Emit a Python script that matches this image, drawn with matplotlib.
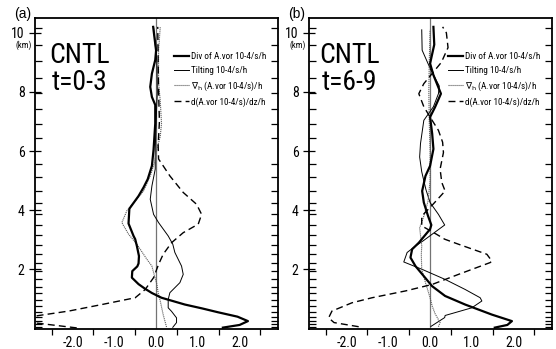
import matplotlib
matplotlib.use('Agg')
import matplotlib.pyplot as plt
from matplotlib import font_manager
from matplotlib.ticker import FixedLocator, FormatStrFormatter

# pick a narrow/condensed sans face if one is installed
cands = []
for f in font_manager.fontManager.ttflist:
    nm = f.name
    st = str(f.stretch).lower()
    if f.style != 'normal' or f.weight not in (400, 'normal', 'regular'):
        continue
    if 'narrow' in nm.lower() or 'condensed' in nm.lower() or st in ('condensed', 'semi-condensed', '500', '700'):
        if 'mono' in nm.lower() or 'serif' in nm.lower() or 'cjk' in nm.lower():
            continue
        cands.append(f)
narrow = None
for key in ['Liberation Sans Narrow', 'Arial Narrow', 'Roboto Condensed', 'Noto Sans', 'DejaVu Sans', 'Open Sans']:
    for f in cands:
        if f.name.startswith(key) and 'extra' not in f.fname.lower() and 'ultra' not in f.fname.lower():
            narrow = f
            break
    if narrow:
        break

if narrow is not None:
    font_kw = dict(fname=narrow.fname)
    scale = 1.0
else:
    font_kw = dict(family='Liberation Sans')
    scale = 0.84

def fp(size):
    return font_manager.FontProperties(size=size * scale, **font_kw)

plt.rcParams['font.family'] = ['Liberation Sans', 'DejaVu Sans']
plt.rcParams['axes.unicode_minus'] = False

# ---------------- data (panel a: t=0-3) ----------------
a_div_z = [0.03, 0.12, 0.25, 0.40, 0.55, 0.68, 0.81, 1.04, 1.20, 1.34, 1.50, 1.72, 1.94, 2.10,
           2.20, 2.45, 2.79, 3.02, 3.13, 3.55, 4.05, 4.48, 4.77, 5.05, 5.50, 6.05, 6.93, 7.56,
           7.83, 8.17, 8.62, 9.08, 9.40, 10.2]
a_div_x = [1.60, 2.00, 2.20, 1.95, 1.48, 1.10, 0.69, 0.13, -0.10, -0.26, -0.42, -0.58, -0.57, -0.45,
           -0.42, -0.41, -0.46, -0.50, -0.54, -0.66, -0.64, -0.42, -0.30, -0.20, -0.10, -0.06, -0.02, -0.02,
           -0.10, -0.14, -0.10, -0.02, 0.00, -0.07]

a_tilt_z = [0.04, 0.20, 0.36, 0.58, 0.70, 0.98, 1.21, 1.55, 1.83, 2.11, 2.57, 2.85, 3.13, 3.58,
            3.86, 4.37, 4.82, 5.39, 6.07, 7.00, 8.00, 9.00, 9.60, 10.2]
a_tilt_x = [0.40, 0.49, 0.49, 0.37, 0.29, 0.29, 0.33, 0.57, 0.65, 0.61, 0.45, 0.40, 0.29, 0.06,
            -0.06, -0.14, -0.10, -0.02, -0.02, 0.00, 0.03, 0.02, -0.02, -0.06]

a_hadv_z = [0.05, 0.47, 0.93, 1.20, 1.49, 1.89, 2.11, 2.34, 2.85, 3.19, 3.58, 3.98, 4.65, 5.16,
            5.60, 6.07, 6.50, 6.93, 7.70, 8.30, 9.40, 10.2]
a_hadv_x = [0.25, 0.17, 0.10, 0.05, 0.02, -0.06, -0.10, -0.22, -0.46, -0.66, -0.82, -0.70, -0.30, -0.14,
            -0.04, 0.02, 0.10, 0.13, 0.10, 0.06, 0.06, 0.10]

a_vadv_z = [0.02, 0.19, 0.30, 0.42, 0.59, 0.81, 1.04, 1.32, 1.72, 2.17, 2.51, 2.90, 3.24, 3.53,
            3.86, 4.20, 4.60, 5.16, 5.50, 5.73, 6.20, 7.00, 8.00, 9.00, 10.2]
a_vadv_x = [-1.90, -2.90, -3.30, -2.90, -2.09, -1.30, -0.50, -0.26, -0.06, 0.06, 0.17, 0.37, 0.65, 1.01,
            1.09, 0.97, 0.65, 0.33, 0.17, 0.06, 0.05, 0.08, 0.06, 0.05, 0.04]

# ---------------- data (panel b: t=6-9) ----------------
b_div_z = [0.03, 0.12, 0.25, 0.47, 0.81, 1.10, 1.43, 1.77, 2.11, 2.40, 2.68, 2.90, 3.19, 3.36,
           3.50, 3.81, 4.26, 4.65, 5.16, 5.50, 6.07, 6.59, 7.15, 7.49, 7.94, 8.57, 8.96, 9.60, 10.2]
b_div_x = [1.55, 1.85, 1.96, 1.48, 0.84, 0.36, 0.05, -0.15, -0.35, -0.47, -0.43, -0.27, -0.10, 0.00,
           0.03, -0.05, -0.15, -0.19, -0.11, 0.00, 0.08, 0.05, 0.00, 0.12, 0.26, 0.08, 0.00, 0.10, 0.08]

b_tilt_z = [0.07, 0.37, 0.44, 0.70, 0.93, 1.04, 1.32, 1.66, 2.00, 2.25, 2.57, 2.79, 2.96, 3.50,
            3.86, 4.26, 4.70, 5.30, 5.80, 6.25, 7.04, 7.50, 7.94, 8.20, 8.80, 9.41, 10.1]
b_tilt_x = [0.02, 0.35, 0.36, 1.00, 1.24, 1.20, 0.84, 0.36, -0.19, -0.63, -0.55, -0.35, -0.17, 0.35,
            0.20, 0.00, -0.10, -0.20, -0.25, -0.23, -0.15, 0.08, 0.20, 0.22, 0.00, -0.19, -0.20]

b_hadv_z = [0.06, 0.20, 0.50, 0.76, 1.04, 1.55, 2.00, 2.50, 2.80, 3.40, 3.80, 4.30, 5.00, 6.00,
            7.00, 8.00, 9.00, 10.1]
b_hadv_x = [0.20, 0.24, 0.12, 0.05, 0.00, -0.11, -0.20, -0.21, -0.20, -0.25, -0.15, -0.05, 0.00, 0.00,
            -0.02, -0.03, -0.02, 0.00]

b_vadv_z = [0.06, 0.20, 0.36, 0.59, 0.87, 1.04, 1.27, 1.49, 1.83, 2.23, 2.28, 2.51, 2.85, 3.02,
            3.19, 3.47, 3.80, 4.20, 4.65, 4.94, 5.39, 5.95, 6.30, 6.70, 7.15, 7.50, 7.94, 8.28,
            9.00, 9.50, 10.0, 10.2]
b_vadv_x = [-1.71, -2.30, -2.43, -2.35, -1.87, -1.39, -0.59, 0.05, 0.68, 1.44, 1.48, 1.36, 0.68, 0.35,
            0.15, -0.20, -0.20, 0.07, 0.36, 0.28, 0.24, 0.32, 0.30, 0.20, 0.00, -0.15, -0.27, -0.15,
            0.27, 0.43, 0.39, 0.30]

# model levels (inner tick marks)
levels = [0.05, 0.14, 0.25, 0.38, 0.57, 0.76, 0.96, 1.19, 1.41, 1.66, 1.94, 2.23, 2.51, 2.81,
          3.15, 3.50, 3.86, 4.24, 4.66, 5.11, 5.55, 6.00, 6.45, 6.93, 7.43, 7.95, 8.48, 9.03,
          9.60, 10.15]

x_ticks = [-2.0, -1.0, 0.0, 1.0, 2.0]
x_minor = [-2.5, -1.5, -0.5, 0.5, 1.5, 2.5]
y_ticks = [2, 4, 6, 8, 10]
y_ticklabels = ['2', '4', '6', '8', '10']

labels = ['Div of A.vor 10-4/s/h', 'Tilting 10-4/s/h',
          r'$\nabla_\mathrm{h}$ (A.vor 10-4/s)/h', 'd(A.vor 10-4/s)/dz/h']
panels = [
    dict(tag='(a)', title='CNTL\nt=0-3', tx=0.182,
         div=(a_div_x, a_div_z), tilt=(a_tilt_x, a_tilt_z),
         hadv=(a_hadv_x, a_hadv_z), vadv=(a_vadv_x, a_vadv_z)),
    dict(tag='(b)', title='CNTL\nt=6-9', tx=0.165,
         div=(b_div_x, b_div_z), tilt=(b_tilt_x, b_tilt_z),
         hadv=(b_hadv_x, b_hadv_z), vadv=(b_vadv_x, b_vadv_z)),
]

W, H = 556, 349
fig = plt.figure(figsize=(W / 100, H / 100), dpi=100)
lefts = [35, 309]
ax_w, ax_top, ax_bot = 243, 18, 328.5

for p, L in zip(panels, lefts):
    ax = fig.add_axes([L / W, (H - ax_bot) / H, ax_w / W, (ax_bot - ax_top) / H])
    ax.set_xlim(-2.9, 2.92)
    ax.set_ylim(0, 10.5)
    ax.axvline(0, color='0.45', lw=0.9, zorder=1)

    l1, = ax.plot(*p['div'], color='black', lw=1.6, label=labels[0], zorder=4)
    l2, = ax.plot(*p['tilt'], color='black', lw=0.7, label=labels[1], zorder=3)
    l3, = ax.plot(*p['hadv'], color='0.35', lw=0.8, ls=(0, (1, 0.8)), label=labels[2], zorder=3)
    l4, = ax.plot(*p['vadv'], color='black', lw=1.0, ls=(0, (5, 3)), label=labels[3], zorder=3)

    for s in ax.spines.values():
        s.set_linewidth(1.3)

    ax.xaxis.set_major_locator(FixedLocator(x_ticks))
    ax.xaxis.set_minor_locator(FixedLocator(x_minor))
    ax.xaxis.set_major_formatter(FormatStrFormatter('%.1f'))
    ax.tick_params(axis='x', which='major', length=0, pad=5.5)
    ax.tick_params(axis='x', which='minor', direction='out', length=4.5, width=0.9)

    ax.yaxis.set_major_locator(FixedLocator(y_ticks))
    ax.set_yticklabels(y_ticklabels)
    ax.yaxis.set_minor_locator(FixedLocator(levels))
    ax.tick_params(axis='y', which='major', direction='inout', length=9, width=0.9,
                   pad=3, left=True, right=False)
    ax.tick_params(axis='y', which='minor', direction='in', length=5, width=0.9,
                   left=True, right=True)
    for t in ax.get_xticklabels() + ax.get_yticklabels():
        t.set_fontproperties(fp(10))

    fig.text((L - 11.5) / W, (H - 45.5) / H, '(km)', ha='center', va='center', fontproperties=fp(6.3))
    fig.text((L - 12) / W, (H - 14) / H, p['tag'], ha='center', va='center', fontsize=10)
    ax.text(p['tx'], 0.835, p['title'], transform=ax.transAxes, ha='center', va='center',
            fontproperties=fp(20), linespacing=1.0)

    leg = ax.legend(handles=[l1, l2, l3, l4], loc='upper left', bbox_to_anchor=(0.573, 0.89),
                    frameon=False, prop=fp(6.6), handlelength=1.6, handletextpad=0.25,
                    labelspacing=0.5, borderpad=0, borderaxespad=0)

fig.savefig('out.png', dpi=100)
